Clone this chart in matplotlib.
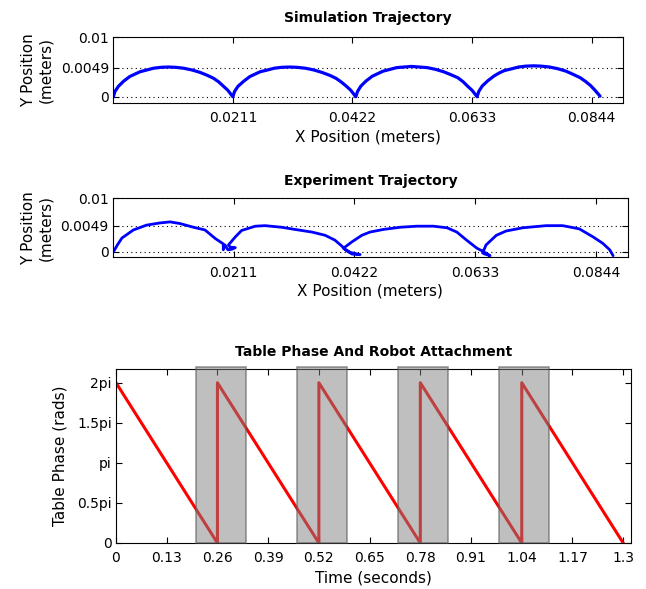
import numpy as np
import matplotlib
matplotlib.use("Agg")
import matplotlib.pyplot as plt

plt.rcParams['font.family'] = ['DejaVu Sans']
plt.rcParams['font.size'] = 10

# ---------------- data ----------------
sim_x = [0.0000, 0.0003, 0.0009, 0.0018, 0.0029, 0.0038, 0.0047, 0.0059, 0.0071, 0.0084, 0.0097,
         0.0110, 0.0124, 0.0139, 0.0153, 0.0166, 0.0177, 0.0186, 0.0194, 0.0202, 0.0211,
         0.0214, 0.0220, 0.0230, 0.0241, 0.0250, 0.0259, 0.0272, 0.0284, 0.0297, 0.0311,
         0.0324, 0.0339, 0.0354, 0.0368, 0.0382, 0.0393, 0.0402, 0.0411, 0.0419, 0.0428,
         0.0431, 0.0437, 0.0446, 0.0457, 0.0467, 0.0476, 0.0488, 0.0500, 0.0513, 0.0526,
         0.0540, 0.0554, 0.0569, 0.0583, 0.0596, 0.0608, 0.0617, 0.0625, 0.0633, 0.0642,
         0.0645, 0.0651, 0.0661, 0.0672, 0.0681, 0.0690, 0.0703, 0.0715, 0.0728, 0.0742,
         0.0755, 0.0770, 0.0785, 0.0799, 0.0813, 0.0824, 0.0833, 0.0842, 0.0850, 0.0859]
sim_y = [0.0000, 0.0009, 0.00175, 0.0026, 0.0034, 0.0038, 0.0042, 0.0045, 0.0048, 0.00495, 0.0050,
         0.00495, 0.0048, 0.0045, 0.0041, 0.0036, 0.0031, 0.0025, 0.0018, 0.0011, 0.0000,
         0.0009, 0.00175, 0.0026, 0.0034, 0.0038, 0.0042, 0.0045, 0.0048, 0.00495, 0.0050,
         0.00495, 0.0048, 0.0045, 0.0041, 0.0036, 0.0031, 0.0025, 0.0018, 0.0011, 0.0000,
         0.0009, 0.0018, 0.00265, 0.00345, 0.0039, 0.0043, 0.0046, 0.0049, 0.0050, 0.0051,
         0.0050, 0.0049, 0.0046, 0.0042, 0.0037, 0.0032, 0.00255, 0.0018, 0.0011, 0.0000,
         0.0009, 0.0018, 0.0027, 0.0035, 0.0040, 0.0044, 0.0047, 0.0050, 0.00515, 0.0052,
         0.00515, 0.0050, 0.0047, 0.0043, 0.0037, 0.0032, 0.0026, 0.0019, 0.0011, 0.0001]

exp_x = [0.0001, 0.0008, 0.0016, 0.0036, 0.0059, 0.0082, 0.0100, 0.0117, 0.0141, 0.0161, 0.0179,
         0.0193, 0.0193, 0.0196, 0.0201, 0.0208, 0.0214, 0.0205, 0.0202,
         0.0214, 0.0225, 0.0249, 0.0266, 0.0295, 0.0318, 0.0348, 0.0371, 0.0388, 0.0400, 0.0406,
         0.0418, 0.0432, 0.0415, 0.0403,
         0.0418, 0.0435, 0.0449, 0.0473, 0.0502, 0.0531, 0.0560, 0.0584, 0.0601, 0.0618, 0.0636,
         0.0647, 0.0659, 0.0650, 0.0646,
         0.0652, 0.0670, 0.0687, 0.0716, 0.0757, 0.0786, 0.0815, 0.0839, 0.0856, 0.0868, 0.0874]
exp_y = [0.0000, 0.0013, 0.0026, 0.0041, 0.0050, 0.0054, 0.0056, 0.0053, 0.0046, 0.0041, 0.0025,
         0.0015, 0.0004, 0.0013, 0.0004, 0.0005, 0.0008, 0.0009, 0.0013,
         0.0028, 0.0040, 0.0048, 0.0049, 0.0046, 0.0042, 0.0037, 0.0031, 0.0022, 0.0011, 0.0004,
         -0.0004, -0.0005, -0.0001, 0.0007,
         0.0019, 0.0031, 0.0037, 0.0042, 0.0046, 0.0048, 0.0048, 0.0045, 0.0037, 0.0022, 0.0007,
         0.0001, -0.0007, -0.0004, -0.0002,
         0.0013, 0.0031, 0.0039, 0.0045, 0.0049, 0.0049, 0.0043, 0.0028, 0.0016, 0.0004, -0.0007]

traj_xticks = [0.0211, 0.0422, 0.0633, 0.0844]
traj_xticklabels = ['0.0211', '0.0422', '0.0633', '0.0844']
traj_yticks = [0, 0.0049, 0.01]
traj_yticklabels = ['0', '0.0049', '0.01']

phase_t = [0.0, 0.26, 0.26, 0.52, 0.52, 0.78, 0.78, 1.04, 1.04, 1.30]
phase_v = [2 * np.pi, 0.0, 2 * np.pi, 0.0, 2 * np.pi, 0.0, 2 * np.pi, 0.0, 2 * np.pi, 0.0]
attach_start = [0.204, 0.463, 0.722, 0.981]
attach_end = [0.332, 0.591, 0.850, 1.110]

time_ticks = [0, 0.13, 0.26, 0.39, 0.52, 0.65, 0.78, 0.91, 1.04, 1.17, 1.3]
time_ticklabels = ['0', '0.13', '0.26', '0.39', '0.52', '0.65', '0.78', '0.91', '1.04', '1.17', '1.3']
phase_ticks = [0, 0.5 * np.pi, np.pi, 1.5 * np.pi, 2 * np.pi]
phase_ticklabels = ['0', '0.5pi', 'pi', '1.5pi', '2pi']

# ---------------- figure ----------------
W, H = 646, 589
fig = plt.figure(figsize=(W / 100, H / 100), dpi=100)


def box(l, t, r, b):
    return [l / W, 1 - b / H, (r - l) / W, (b - t) / H]


def style(ax):
    ax.tick_params(direction='in', top=True, right=True, length=4, width=0.8,
                   labelsize=10, pad=6)
    ax.tick_params(axis='y', pad=3)
    for s in ax.spines.values():
        s.set_linewidth(0.8)
        s.set_color('black')


def traj_panel(rect, x, y, title, lw, xl_y, title_y):
    ax = fig.add_axes(rect)
    ax.plot(x, y, color='#0000ff', linewidth=lw, solid_capstyle='round',
            solid_joinstyle='round')
    ax.set_xlim(0, 0.09)
    ax.set_ylim(-0.001, 0.01)
    ax.set_xticks(traj_xticks)
    ax.set_xticklabels(traj_xticklabels)
    ax.set_yticks(traj_yticks)
    ax.set_yticklabels(traj_yticklabels)
    ax.grid(axis='y', linestyle=(0, (1, 3)), color='black', linewidth=0.8)
    style(ax)
    ax.set_xlabel('X Position (meters)', fontsize=11, va='center')
    ax.xaxis.set_label_coords(0.5, xl_y)
    ax.set_ylabel('Y Position\n(meters)', fontsize=11, va='center', multialignment='center')
    ax.set_title(title, fontweight='bold', fontsize=10, y=title_y, pad=0, va='center')
    return ax


ax1 = traj_panel(box(113.3, 37.3, 623.3, 102.7), sim_x, sim_y,
                 'Simulation Trajectory', 2.3, -0.52, 1.30)
ax1.yaxis.set_label_coords((37.5 - 113.3) / 510, 0.5)

ax2 = traj_panel(box(112.8, 198.3, 628, 257.3), exp_x, exp_y,
                 'Experiment Trajectory', 2.0, -0.57, 1.30)
ax2.yaxis.set_label_coords((37.5 - 112.8) / 515, 0.5)

# bottom panel
ax3 = fig.add_axes(box(116, 369.3, 631, 543))
ax3.plot(phase_t, phase_v, color='red', linewidth=2.2, zorder=2)
for s0, s1 in zip(attach_start, attach_end):
    ax3.axvspan(s0, s1, ymin=0, ymax=1.015, facecolor=(0.5, 0.5, 0.5, 0.5),
                edgecolor=(0.35, 0.35, 0.35, 0.6), linewidth=1.2, clip_on=False, zorder=3)
ax3.set_xlim(0, 1.32)
ax3.set_ylim(0, 6.81)
ax3.set_xticks(time_ticks)
ax3.set_xticklabels(time_ticklabels)
ax3.set_yticks(phase_ticks)
ax3.set_yticklabels(phase_ticklabels)
style(ax3)
ax3.set_xlabel('Time (seconds)', fontsize=11, va='center')
ax3.xaxis.set_label_coords(0.5, -35 / 173.7)
ax3.set_ylabel('Table Phase (rads)', fontsize=11, va='center')
ax3.yaxis.set_label_coords((60 - 116) / 515, 0.5)
ax3.set_title('Table Phase And Robot Attachment', fontweight='bold', fontsize=10,
              y=1 + 17 / 173.7, pad=0, va='center')

fig.savefig('out.png', dpi=100)
